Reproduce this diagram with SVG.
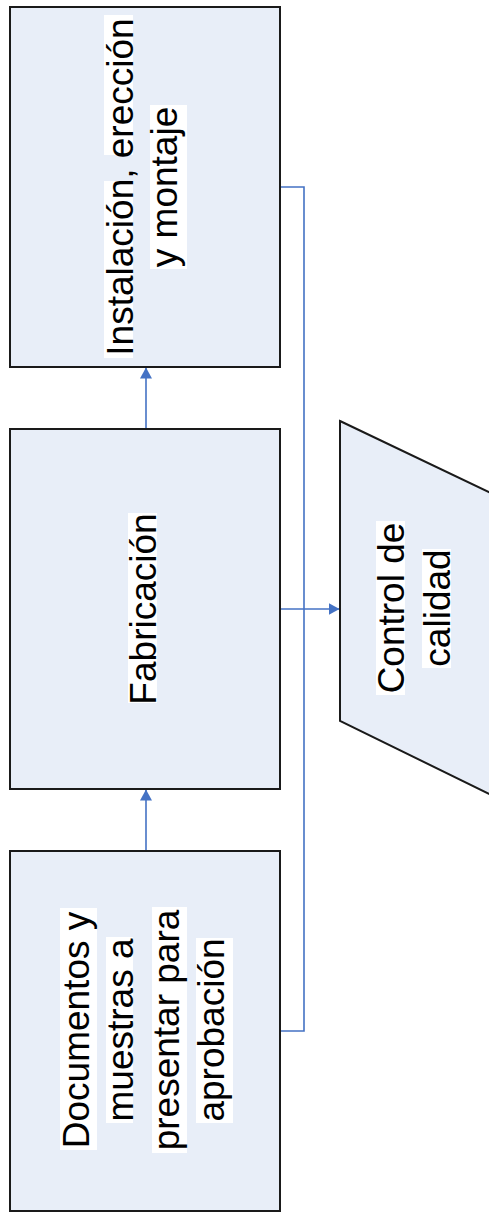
<svg xmlns="http://www.w3.org/2000/svg" width="489" height="1213" viewBox="0 0 489 1213">
<style>
.box{fill:#E8EEF8;stroke:#1a1a1a;stroke-width:2}
.hl{fill:#ffffff}
.t{font-family:"Liberation Sans",Arial,sans-serif;font-size:37px;fill:#000;text-anchor:middle}
.c{fill:none;stroke:#4472C4;stroke-width:1.6}
</style>
<defs>
<marker id="arr" markerWidth="11" markerHeight="12" refX="10.5" refY="6" orient="auto" markerUnits="userSpaceOnUse">
<path d="M0,0 L11,6 L0,12 Z" fill="#4472C4"/>
</marker>
</defs>
<g id="connectors">
<line class="c" x1="146" y1="429" x2="146" y2="368" marker-end="url(#arr)"/>
<line class="c" x1="146" y1="851" x2="146" y2="790" marker-end="url(#arr)"/>
<polyline class="c" points="280,187 304,187 304,1031 280,1031"/>
<line class="c" x1="280" y1="609" x2="339" y2="609" marker-end="url(#arr)"/>
</g>
<g id="node-instalacion">
<rect class="box" x="10" y="7" width="270" height="360"/>
<rect class="hl" x="104" y="181" width="29" height="177"/>
<rect class="hl" x="104" y="15" width="29" height="140"/>
<rect class="hl" x="150" y="105" width="37" height="164"/>
<text class="t" transform="translate(133,187) rotate(-90)">Instalación, erección</text>
<text class="t" transform="translate(177,187) rotate(-90)">y montaje</text>
</g>
<g id="node-fabricacion">
<rect class="box" x="10" y="429" width="270" height="360"/>
<rect class="hl" x="128" y="513" width="29" height="190"/>
<text class="t" transform="translate(156,609) rotate(-90)">Fabricación</text>
</g>
<g id="node-documentos">
<rect class="box" x="10" y="851" width="270" height="360"/>
<rect class="hl" x="60" y="908" width="37" height="242"/>
<rect class="hl" x="106" y="937" width="27" height="186"/>
<rect class="hl" x="152" y="907" width="35" height="246"/>
<rect class="hl" x="196" y="938" width="37" height="185"/>
<text class="t" transform="translate(89,1030) rotate(-90)">Documentos y</text>
<text class="t" transform="translate(133,1030) rotate(-90)">muestras a</text>
<text class="t" transform="translate(179,1030) rotate(-90)">presentar para</text>
<text class="t" transform="translate(224,1030) rotate(-90)">aprobación</text>
</g>
<g id="node-control">
<polygon class="box" points="340,421 600,545 600,848 340,721"/>
<rect class="hl" x="376" y="521" width="29" height="174"/>
<rect class="hl" x="422" y="549" width="29" height="119"/>
<text class="t" transform="translate(404,608) rotate(-90)">Control de</text>
<text class="t" transform="translate(450,608) rotate(-90)">calidad</text>
</g>
</svg>
